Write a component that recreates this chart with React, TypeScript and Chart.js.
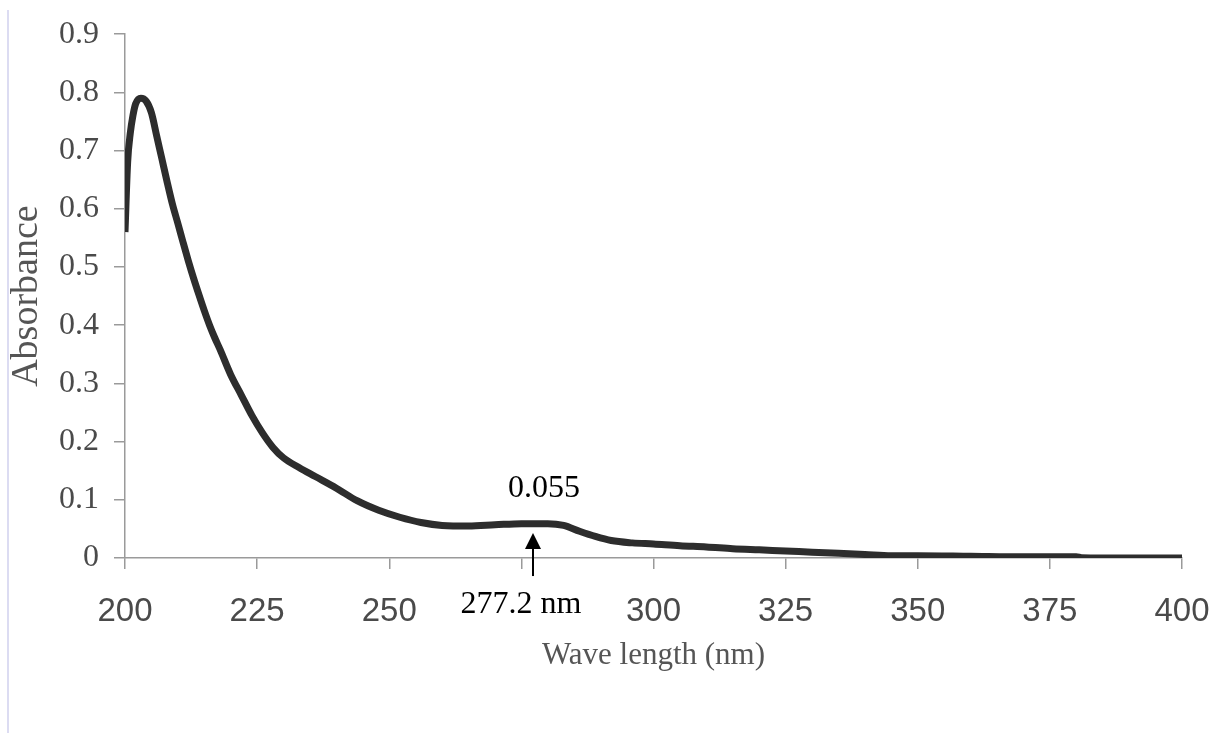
import React, { useEffect, useRef } from "react";
import { Chart, registerables } from "chart.js";

Chart.register(...registerables);

const wavelengths = [
  200, 200.5, 201, 201.5, 202, 203, 204, 205, 206, 207, 208, 209, 210, 211, 212, 213, 214, 215, 216, 217, 218,
  220, 222, 224, 226, 228, 230, 233, 236, 240, 244, 248, 252, 256, 260, 265, 270, 275, 280, 283, 286, 289, 292,
  296, 300, 305, 310, 315, 320, 325, 330, 335, 340, 345, 350, 360, 370, 380, 381, 390, 400,
];
const absorbance = [
  0.56, 0.68, 0.73, 0.76, 0.78, 0.79, 0.785, 0.765, 0.725, 0.685, 0.645, 0.607, 0.575, 0.542, 0.51, 0.48, 0.452,
  0.425, 0.4, 0.378, 0.358, 0.315, 0.28, 0.245, 0.215, 0.19, 0.172, 0.155, 0.14, 0.12, 0.098, 0.082, 0.07, 0.061,
  0.056, 0.055, 0.057, 0.059, 0.059, 0.056, 0.046, 0.037, 0.03, 0.026, 0.024, 0.021, 0.019, 0.016, 0.014, 0.012,
  0.01, 0.008, 0.006, 0.004, 0.004, 0.003, 0.002, 0.002, 0.0005, 0, 0,
];
const hiddenTickLabels = [275];
const peakWavelength = 277.2;
const peakLabel = "0.055";
const peakWavelengthLabel = "277.2 nm";
const xTitle = "Wave length (nm)";
const yTitle = "Absorbance";

const annotationPlugin = {
  id: "peakAnnotation",
  afterDatasetsDraw(chart: any) {
    const { ctx, scales } = chart;
    const xs = scales.x;
    const ys = scales.y;
    const ax = xs.getPixelForValue(peakWavelength);
    const tipY = ys.getPixelForValue(0.043);
    const tailY = ys.getPixelForValue(-0.031);
    ctx.save();
    ctx.strokeStyle = "#000";
    ctx.fillStyle = "#000";
    ctx.lineWidth = 2;
    ctx.beginPath();
    ctx.moveTo(ax, tailY);
    ctx.lineTo(ax, tipY + 12);
    ctx.stroke();
    ctx.beginPath();
    ctx.moveTo(ax, tipY);
    ctx.lineTo(ax - 8, tipY + 16);
    ctx.lineTo(ax + 8, tipY + 16);
    ctx.closePath();
    ctx.fill();
    ctx.font = '32px "Liberation Serif", serif';
    ctx.textAlign = "center";
    ctx.textBaseline = "middle";
    ctx.fillText(peakLabel, ax + 11, ys.getPixelForValue(0.12));
    ctx.fillText(peakWavelengthLabel, ax - 12, ys.getPixelForValue(-0.08));
    ctx.restore();
  },
};

export default function App() {
  const canvasRef = useRef<HTMLCanvasElement | null>(null);

  useEffect(() => {
    const canvas = canvasRef.current;
    if (!canvas) return;
    const chart = new Chart(canvas, {
      type: "line",
      data: {
        datasets: [
          {
            data: wavelengths.map((w, i) => ({ x: w, y: absorbance[i] })),
            borderColor: "#2d2d2d",
            borderWidth: 7,
            pointRadius: 0,
            cubicInterpolationMode: "monotone",
            fill: false,
          },
        ],
      },
      options: {
        animation: false,
        responsive: false,
        maintainAspectRatio: false,
        layout: { padding: { left: 0, right: 45, top: 33, bottom: 0 } },
        plugins: { legend: { display: false }, tooltip: { enabled: false } },
        scales: {
          x: {
            type: "linear",
            min: 200,
            max: 400,
            afterFit: (scale: any) => {
              scale.height = 175;
              scale.paddingLeft = 0;
              scale.paddingRight = 0;
            },
            ticks: {
              stepSize: 25,
              padding: 23,
              color: "#4a4a4a",
              font: { family: '"Liberation Sans", Arial, sans-serif', size: 33 },
              callback: (v: any) => (hiddenTickLabels.includes(Number(v)) ? "" : String(v)),
            },
            grid: { drawOnChartArea: false, drawTicks: true, tickLength: 11, color: "#9a9a9a", lineWidth: 1.5 },
            border: { display: true, color: "#9a9a9a", width: 1.5 },
            title: {
              display: true,
              text: xTitle,
              color: "#555",
              font: { family: '"Liberation Serif", serif', size: 31 },
              padding: { top: 0, bottom: 59 },
            },
          },
          y: {
            min: 0,
            max: 0.9,
            afterFit: (scale: any) => {
              scale.width = 125;
            },
            ticks: {
              stepSize: 0.1,
              padding: 15,
              color: "#4a4a4a",
              font: { family: '"Liberation Serif", serif', size: 32 },
              callback: (v: any) => (Number(v) === 0 ? "0" : Number(v).toFixed(1)),
            },
            grid: { drawOnChartArea: false, drawTicks: true, tickLength: 11, color: "#9a9a9a", lineWidth: 1.5 },
            border: { display: true, color: "#9a9a9a", width: 1.5 },
            title: {
              display: true,
              text: yTitle,
              color: "#555",
              font: { family: '"Liberation Serif", serif', size: 38 },
              padding: { top: 4, bottom: 0 },
            },
          },
        },
      },
      plugins: [annotationPlugin],
    });
    return () => chart.destroy();
  }, []);

  return (
    <div style={{ position: "fixed", left: 0, top: 0, width: 1227, height: 733, background: "#fff" }}>
      <div style={{ position: "absolute", left: 7, top: 10, width: 2, height: 723, background: "#dcdcf2" }} />
      <canvas ref={canvasRef} width={1227} height={733} style={{ position: "absolute", left: 0, top: 0 }} />
    </div>
  );
}
